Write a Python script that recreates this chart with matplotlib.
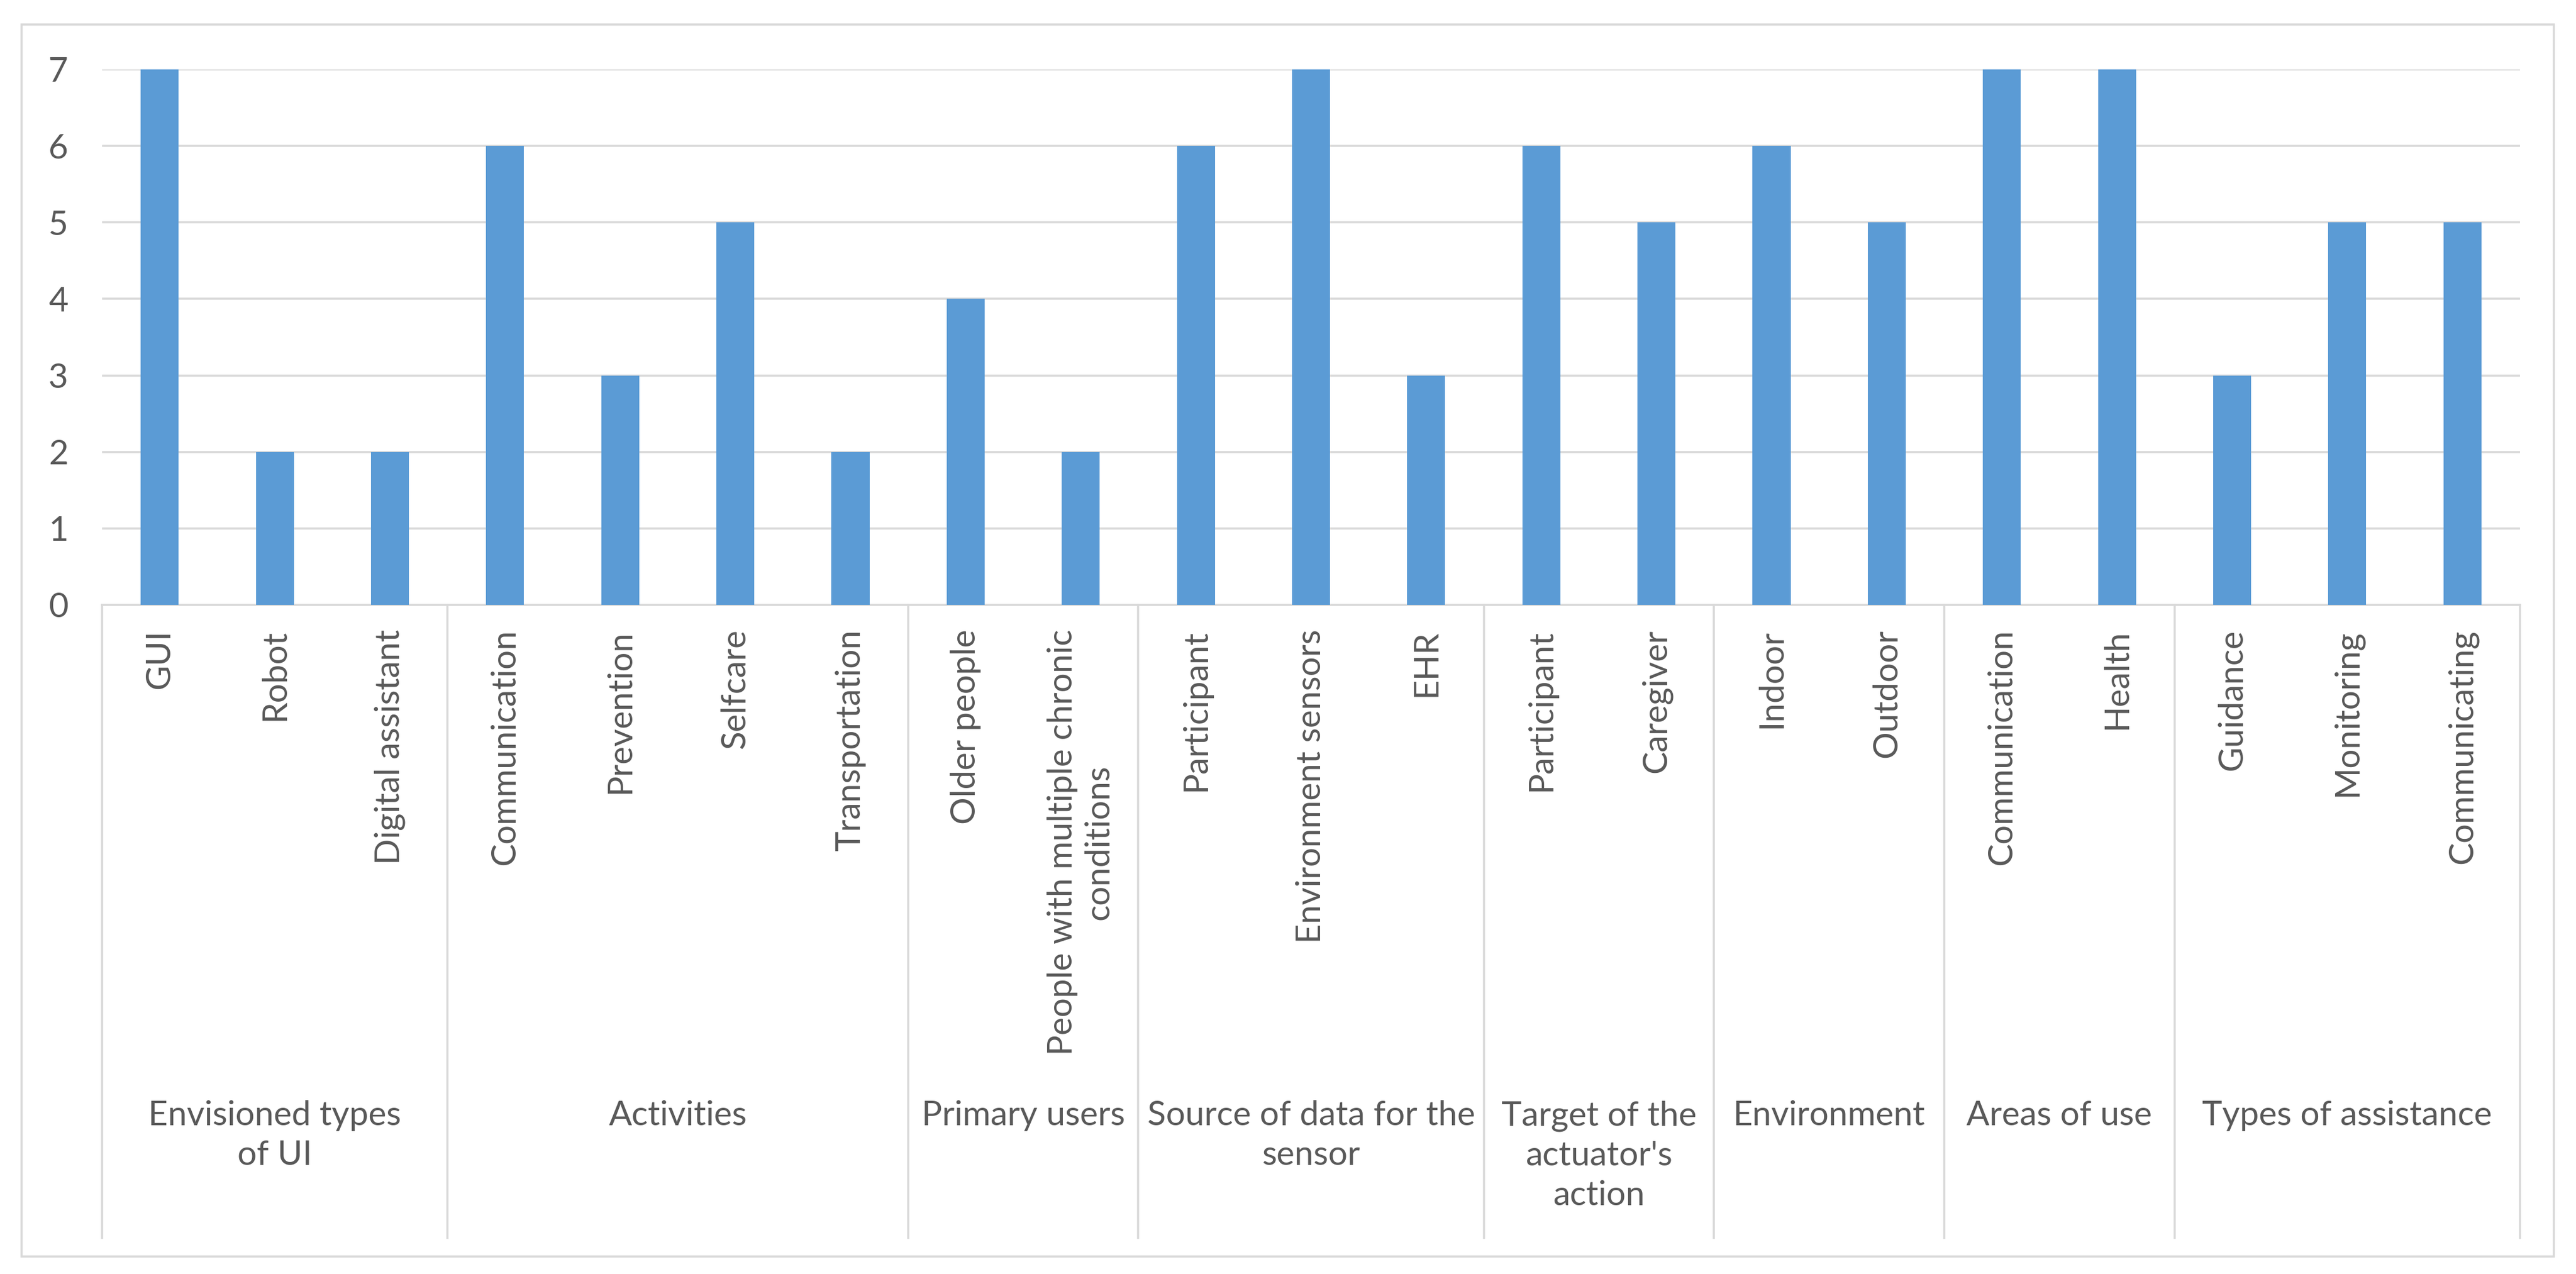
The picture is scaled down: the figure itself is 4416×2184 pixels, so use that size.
import numpy as np
import matplotlib.pyplot as plt
from matplotlib.patches import Rectangle
from matplotlib.transforms import blended_transform_factory

# -------------------------
# Data
# -------------------------

labels = [
    "GUI", "Robot", "Digital assistant",
    "Communication", "Prevention", "Selfcare", "Transportation",
    "Older people", "People with multiple chronic\nconditions",
    "Participant", "Environment sensors", "EHR",
    "Participant", "Caregiver",
    "Indoor", "Outdoor",
    "Communication", "Health",
    "Guidance", "Monitoring", "Communicating",
]
values = [7, 2, 2, 6, 3, 5, 2, 4, 2, 6, 7, 3, 6, 5, 6, 5, 7, 7, 3, 5, 5]

groups = [
    "Envisioned types\nof UI", "Activities", "Primary users",
    "Source of data for the\nsensor", "Target of the\nactuator's\naction",
    "Environment", "Areas of use", "Types of assistance",
]
group_sizes = [3, 4, 2, 3, 2, 2, 2, 3]

# -------------------------
# Style
# -------------------------

W, H, DPI = 4416, 2184, 200
BLUE = "#5B9BD5"
GRID = "#D9D9D9"
TEXT = "#595959"

plt.rcParams['font.family'] = ['Lato', 'DejaVu Sans']
plt.rcParams['font.size'] = 21


def fy(p):
    # pixel row -> figure fraction
    return 1 - p / H


fig = plt.figure(figsize=(W / DPI, H / DPI), dpi=DPI)
ax = fig.add_axes([175 / W, fy(1037), (4320 - 175) / W, (1037 - 119) / H])

x = np.arange(len(values))
ax.bar(x, values, width=0.33, color=BLUE, zorder=3)

ax.set_xlim(-0.5, len(values) - 0.5)
ax.set_ylim(0, 7)
ax.set_yticks(range(8))
ax.yaxis.grid(True, color=GRID, lw=1.3, zorder=0)

for s in ['top', 'right', 'left']:
    ax.spines[s].set_visible(False)
ax.spines['bottom'].set_color(GRID)
ax.spines['bottom'].set_linewidth(1.3)

ax.set_xticks(x)
ax.set_xticklabels(labels, rotation=90, ha='center', va='top',
                   multialignment='center', color=TEXT)
ax.tick_params(axis='x', length=0, pad=15)
ax.tick_params(axis='y', length=0, pad=21, labelcolor=TEXT)

# -------------------------
# Group separators and labels
# -------------------------

trans = blended_transform_factory(ax.transData, fig.transFigure)
edges = np.concatenate([[0], np.cumsum(group_sizes)]) - 0.5

for e in edges:
    ax.plot([e, e], [fy(1037), fy(2122)], color=GRID, lw=1.3,
            transform=trans, clip_on=False)

for name, a, b in zip(groups, edges[:-1], edges[1:]):
    ax.text((a + b) / 2, fy(1886), name, transform=trans, ha='center',
            va='top', color=TEXT, linespacing=1.35, multialignment='center')

# outer chart frame
fig.patches.append(Rectangle((37 / W, fy(2154)), (4378 - 37) / W,
                             (2154 - 42) / H, transform=fig.transFigure,
                             fill=False, edgecolor=GRID, lw=1.3))

fig.savefig("out.png", dpi=DPI, facecolor="white")
